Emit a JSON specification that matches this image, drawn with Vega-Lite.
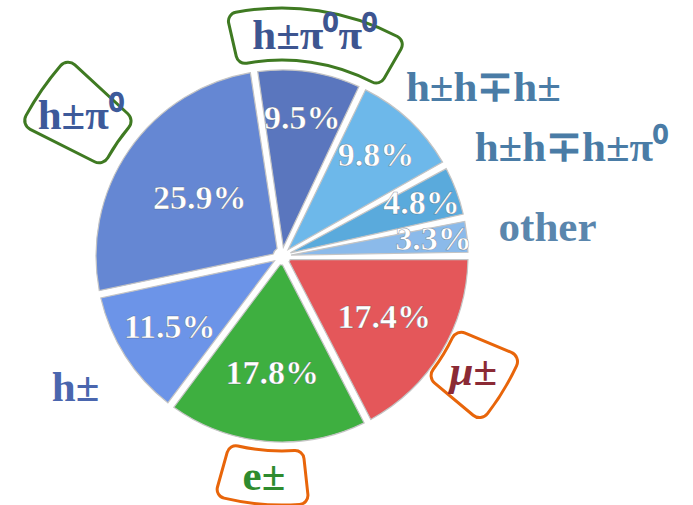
{
  "$schema": "https://vega.github.io/schema/vega-lite/v6.json",
  "width": 564,
  "height": 498,
  "autosize": {"type": "none"},
  "padding": {"left": 0, "top": 7, "right": 129, "bottom": 0},
  "background": "white",
  "view": {"stroke": null},
  "data": {
    "values": [
      {"label": "μ±", "share": 0.174, "ord": 1},
      {"label": "e±", "share": 0.178, "ord": 2},
      {"label": "h±", "share": 0.115, "ord": 3},
      {"label": "h±π⁰", "share": 0.259, "ord": 4},
      {"label": "h±π⁰π⁰", "share": 0.095, "ord": 5},
      {"label": "h±h∓h±", "share": 0.098, "ord": 6},
      {"label": "h±h∓h±π⁰", "share": 0.048, "ord": 7},
      {"label": "other", "share": 0.033, "ord": 8}
    ]
  },
  "encoding": {
    "theta": {"field": "share", "type": "quantitative", "stack": true, "scale": {"domain": [0, 1], "range": [1.5707963, 7.8539816]}},
    "order": {"field": "ord", "type": "quantitative"}
  },
  "resolve": {"scale": {"theta": "independent"}},
  "layer": [
    {
      "mark": {"type": "arc", "outerRadius": 186, "innerRadius": 9, "padAngle": 0.04, "stroke": "#c4c4c4", "strokeWidth": 1.2},
      "encoding": {
        "fill": {"field": "label", "type": "nominal", "legend": null,
          "scale": {"domain": ["μ±", "e±", "h±", "h±π⁰", "h±π⁰π⁰", "h±h∓h±", "h±h∓h±π⁰", "other"],
                    "range": ["#E4575A", "#3EAF40", "#6C94E8", "#6587D3", "#5A76BE", "#6DB8EA", "#5AAADC", "#8BBAEA"]}}
      }
    },
    {
      "mark": {"type": "arc", "innerRadius": 195, "outerRadius": 249, "cornerRadius": 9, "fill": "white", "fillOpacity": 0, "strokeWidth": 3},
      "encoding": {
        "theta": {"field": "share", "type": "quantitative", "stack": true, "scale": {"domain": [0, 1], "range": [2.6615, 4.7991]}},
        "stroke": {"condition": {"test": "datum.label === 'e±'", "value": "#E8650A"}, "value": "transparent"}
      }
    },
    {
      "mark": {"type": "arc", "innerRadius": 189, "outerRadius": 259, "cornerRadius": 10, "fill": "white", "fillOpacity": 0, "strokeWidth": 3},
      "encoding": {
        "theta": {"field": "share", "type": "quantitative", "stack": true, "scale": {"domain": [0, 1], "range": [1.9687, 3.6739]}},
        "stroke": {"condition": {"test": "datum.label === 'μ±'", "value": "#E8650A"}, "value": "transparent"}
      }
    },
    {
      "mark": {"type": "arc", "innerRadius": 196, "outerRadius": 248, "cornerRadius": 9, "fill": "white", "fillOpacity": 0, "strokeWidth": 3},
      "encoding": {
        "theta": {"field": "share", "type": "quantitative", "stack": true, "scale": {"domain": [0, 1], "range": [0.3495, 8.2125]}},
        "stroke": {"condition": {"test": "datum.label === 'h±π⁰π⁰'", "value": "#3F7A22"}, "value": "transparent"}
      }
    },
    {
      "mark": {"type": "arc", "innerRadius": 200, "outerRadius": 292, "cornerRadius": 10, "fill": "white", "fillOpacity": 0, "strokeWidth": 3},
      "encoding": {
        "theta": {"field": "share", "type": "quantitative", "stack": true, "scale": {"domain": [0, 1], "range": [4.6750, 5.7530]}},
        "stroke": {"condition": {"test": "datum.label === 'h±π⁰'", "value": "#3F7A22"}, "value": "transparent"}
      }
    },
    {
      "mark": {"type": "text", "font": "Liberation Serif", "fontWeight": "bold", "fontSize": 34, "fill": "white", "stroke": "#2f3a4a", "strokeWidth": 0.5, "strokeOpacity": 0.55, "baseline": "middle", "align": "center"},
      "encoding": {
        "text": {"field": "share", "type": "quantitative", "format": ".1%"},
        "radius": {"field": "share", "type": "quantitative", "scale": {"type": "linear", "domain": [0.03, 0.26], "range": [153, 100], "zero": false}}
      }
    },
    {
      "mark": {"type": "text", "font": "Liberation Serif", "fontWeight": "bold", "fontSize": 43, "radius": 222, "baseline": "middle", "align": "center"},
      "encoding": {
        "text": {"condition": {"test": "indexof(['e±','h±π⁰π⁰'], datum.label) >= 0", "field": "label"}, "value": ""},
        "color": {"field": "label", "type": "nominal", "legend": null,
          "scale": {"domain": ["μ±", "e±", "h±", "h±π⁰", "h±π⁰π⁰", "h±h∓h±", "h±h∓h±π⁰", "other"],
                    "range": ["#8B2A35", "#2E8B2E", "#4A66AE", "#3D5A9A", "#3D5590", "#4A7CA6", "#4A7CA6", "#5A86AD"]}}
      }
    },
    {
      "mark": {"type": "text", "font": "Liberation Serif", "fontWeight": "bold", "fontStyle": "italic", "fontSize": 43, "radius": 224, "baseline": "middle", "align": "center"},
      "encoding": {
        "text": {"condition": {"test": "datum.label === 'μ±'", "field": "label"}, "value": ""},
        "color": {"field": "label", "type": "nominal", "legend": null}
      }
    },
    {
      "mark": {"type": "text", "font": "Liberation Serif", "fontWeight": "bold", "fontSize": 43, "radius": 245, "baseline": "middle", "align": "center"},
      "encoding": {
        "text": {"condition": {"test": "indexof(['h±','h±π⁰'], datum.label) >= 0", "field": "label"}, "value": ""},
        "color": {"field": "label", "type": "nominal", "legend": null}
      }
    },
    {
      "mark": {"type": "text", "font": "Liberation Serif", "fontWeight": "bold", "fontSize": 43, "radius": 267, "baseline": "middle", "align": "center"},
      "encoding": {
        "text": {"condition": {"test": "datum.label === 'other'", "field": "label"}, "value": ""},
        "color": {"field": "label", "type": "nominal", "legend": null}
      }
    },
    {
      "mark": {"type": "text", "font": "Liberation Serif", "fontWeight": "bold", "fontSize": 43, "radius": 309, "baseline": "middle", "align": "center"},
      "encoding": {
        "text": {"condition": {"test": "datum.label === 'h±h∓h±π⁰'", "field": "label"}, "value": ""},
        "color": {"field": "label", "type": "nominal", "legend": null}
      }
    },
    {
      "mark": {"type": "text", "font": "Liberation Serif", "fontWeight": "bold", "fontSize": 43, "radius": 262, "dx": 22, "dy": 23, "baseline": "middle", "align": "center"},
      "encoding": {
        "text": {"condition": {"test": "datum.label === 'h±h∓h±'", "field": "label"}, "value": ""},
        "color": {"field": "label", "type": "nominal", "legend": null}
      }
    }
  ]
}
